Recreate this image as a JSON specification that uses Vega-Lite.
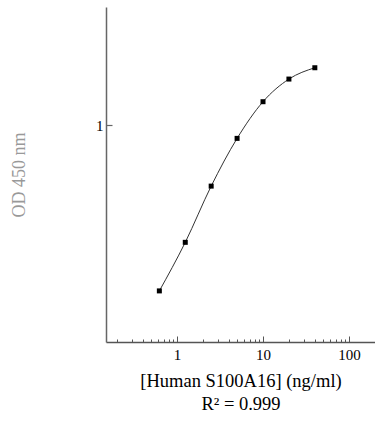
{
  "$schema": "https://vega.github.io/schema/vega-lite/v6.json",
  "autosize": "none",
  "width": 269,
  "height": 335,
  "padding": {"left": 106, "top": 7, "right": 0, "bottom": 79},
  "background": "white",
  "config": {
    "view": {"stroke": null},
    "axis": {"grid": false, "labelFont": "Liberation Serif", "titleFont": "Liberation Serif", "titleFontWeight": "normal", "labelColor": "black"}
  },
  "data": {"values": [
    {"conc": 0.625, "od": 0.172},
    {"conc": 1.25, "od": 0.288},
    {"conc": 2.5, "od": 0.523},
    {"conc": 5, "od": 0.868},
    {"conc": 10, "od": 1.281},
    {"conc": 20, "od": 1.629},
    {"conc": 40, "od": 1.837}
  ]},
  "layer": [
    {
      "mark": {"type": "line", "interpolate": "monotone", "color": "#333333", "strokeWidth": 1},
      "encoding": {
        "x": {"field": "conc", "type": "quantitative",
          "scale": {"type": "log", "domain": [0.15, 200], "nice": false},
          "axis": {"orient": "bottom", "values": [1, 10, 100], "ticks": false, "labelFontSize": 15, "labelPadding": 5, "domainColor": "#555555", "domainWidth": 1.5,
            "title": ["[Human S100A16] (ng/ml)", "R² = 0.999"], "titleFontSize": 18.5, "titleLineHeight": 23, "titlePadding": 9, "titleColor": "black"}},
        "y": {"field": "od", "type": "quantitative",
          "scale": {"type": "log", "domain": [0.1, 3.5], "nice": false},
          "axis": {"orient": "left", "values": [1], "ticks": false, "labelFontSize": 15, "labelPadding": 3, "domainColor": "#666666", "domainWidth": 1.5,
            "title": "OD 450 nm", "titleFontSize": 18, "titleColor": "#999999", "titlePadding": 67}}
      }
    },
    {
      "mark": {"type": "point", "shape": "square", "filled": true, "color": "black", "size": 25, "opacity": 1},
      "encoding": {
        "x": {"field": "conc", "type": "quantitative",
          "axis": {"orient": "bottom", "values": [0.2, 0.3, 0.4, 0.5, 0.6, 0.7, 0.8, 0.9, 1, 2, 3, 4, 5, 6, 7, 8, 9, 10, 20, 30, 40, 50, 60, 70, 80, 90, 100],
            "labels": false, "domain": false, "title": null, "tickColor": "#555555", "tickWidth": 1,
            "tickSize": {"condition": {"test": "datum.value == 1 || datum.value == 10 || datum.value == 100", "value": -6}, "value": -3}}},
        "y": {"field": "od", "type": "quantitative",
          "axis": {"orient": "left", "values": [1], "labels": false, "domain": false, "title": null, "tickColor": "#666666", "tickWidth": 1.2, "tickSize": -6}}
      }
    }
  ],
  "resolve": {"axis": {"x": "independent", "y": "independent"}}
}
